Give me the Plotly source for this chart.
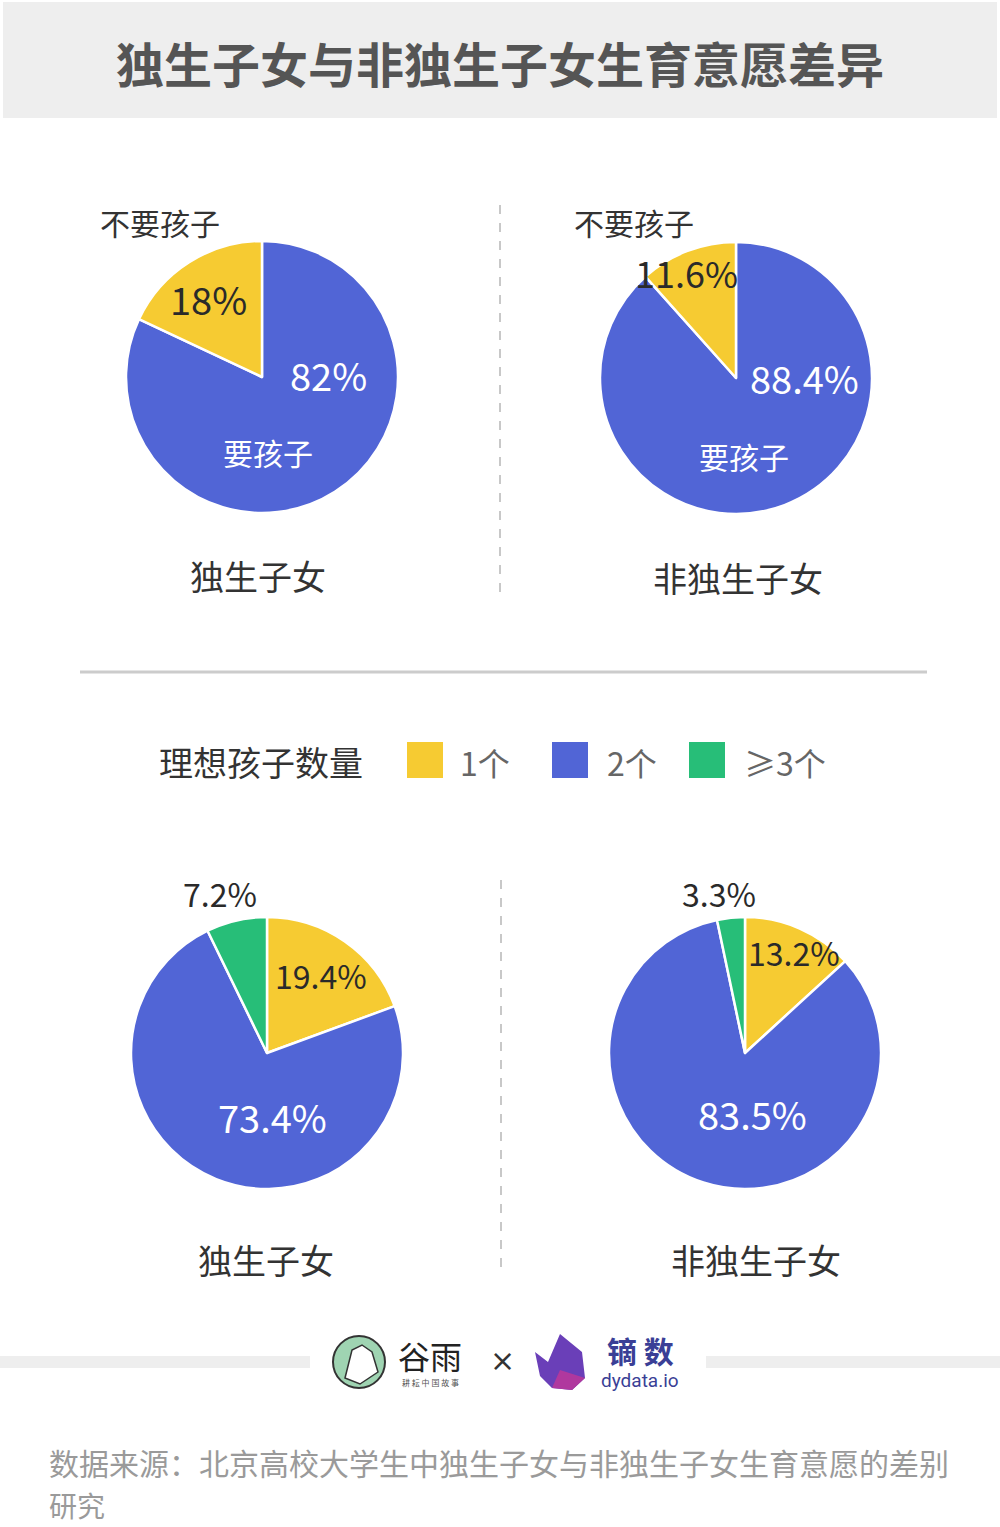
import plotly.graph_objects as go

W, H = 1000, 1527

# ---------------- data ----------------
top_groups = ["独生子女", "非独生子女"]
top_labels = ["要孩子", "不要孩子"]
top_values = [[82, 18], [88.4, 11.6]]

bottom_groups = ["独生子女", "非独生子女"]
count_labels = ["1个", "2个", "≥3个"]
count_values = [[19.4, 73.4, 7.2], [13.2, 83.5, 3.3]]

title_text = "独生子女与非独生子女生育意愿差异"
legend_title = "理想孩子数量"
source_lines = ["数据来源：北京高校大学生中独生子女与非独生子女生育意愿的差别", "研究"]

YELLOW = "#F6CB32"
BLUE = "#5165D6"
GREEN = "#27BE78"
CJK = "Noto Sans CJK SC"
NUM = "Noto Sans CJK SC"


def px(x):
    return x / W


def py(y):
    return 1 - y / H


def fmt(v):
    return ("%g" % v) + "%"


fig = go.Figure()

R = 136


def add_pie(cx, cy, labels, values, colors):
    fig.add_trace(go.Pie(
        labels=labels, values=values, sort=False, direction="clockwise",
        rotation=0, textinfo="none", hoverinfo="label+percent",
        marker=dict(colors=colors, line=dict(color="white", width=2.5)),
        domain=dict(x=[px(cx - R), px(cx + R)], y=[py(cy + R), py(cy - R)]),
        showlegend=False,
    ))


# top pies (blue "要孩子" first so yellow ends at 12 o'clock)
add_pie(262, 377, top_labels, top_values[0], [BLUE, YELLOW])
add_pie(736, 378, top_labels, top_values[1], [BLUE, YELLOW])
# bottom pies
add_pie(267, 1053, count_labels, count_values[0], [YELLOW, BLUE, GREEN])
add_pie(745, 1053, count_labels, count_values[1], [YELLOW, BLUE, GREEN])

ann = []


def text(x, y, s, size, color="#333333", family=CJK, xanchor="center", align="center", pad=1):
    ann.append(dict(x=px(x), y=py(y), xref="paper", yref="paper", text=s,
                    showarrow=False, xanchor=xanchor, yanchor="middle", align=align,
                    borderpad=pad,
                    font=dict(size=size, color=color, family=family)))


# title
text(500, 62, "<b>" + title_text + "</b>", 48, "#555555")

# top pie labels
text(160, 222, top_labels[1], 30, "#333333")
text(208, 298, fmt(top_values[0][1]), 38, "#2a2a2a", NUM)
text(328, 374, fmt(top_values[0][0]), 38, "white", NUM)
text(268, 452, top_labels[0], 30, "white")
text(258, 575, top_groups[0], 34, "#333333")

text(634, 222, top_labels[1], 30, "#333333")
text(686, 272, fmt(top_values[1][1]), 36, "#2a2a2a", NUM)
text(804, 378, fmt(top_values[1][0]), 38, "white", NUM)
text(744, 456, top_labels[0], 30, "white")
text(738, 577, top_groups[1], 34, "#333333")

# legend row
text(157, 761, legend_title, 34, "#333333", xanchor="left")
leg_sq_x = [407, 552, 689]
leg_txt_x = [458, 605, 742]
for i, c in enumerate([YELLOW, BLUE, GREEN]):
    text(leg_txt_x[i], 762, count_labels[i], 32, "#666666", xanchor="left")

# bottom pie labels
text(220, 893, fmt(count_values[0][2]), 32, "#2a2a2a", NUM)
text(321, 975, fmt(count_values[0][0]), 32, "#2a2a2a", NUM)
text(272, 1116, fmt(count_values[0][1]), 38, "white", NUM)
text(266, 1259, bottom_groups[0], 34, "#333333")

text(719, 893, fmt(count_values[1][2]), 32, "#2a2a2a", NUM)
text(794, 952, fmt(count_values[1][0]), 32, "#2a2a2a", NUM)
text(752, 1113, fmt(count_values[1][1]), 38, "white", NUM)
text(756, 1259, bottom_groups[1], 34, "#333333")

# logos text
text(430, 1355, "谷雨", 32, "#222222", family="Noto Sans CJK SC")
text(430, 1382, "耕 耘 中 国 故 事", 8, "#555555")
text(502, 1360, "×", 30, "#333333", family="DejaVu Sans")
text(640, 1350, "<b>镝 数</b>", 30, "#3a3f96")
text(640, 1380, "dydata.io", 19, "#3a3f96", family="Roboto")

# source (two lines)
text(48, 1462, source_lines[0], 30, "#9a9a9a", xanchor="left", align="left", pad=0)
text(48, 1505, source_lines[1], 28, "#9a9a9a", xanchor="left", align="left", pad=0)

shapes = []
# title band
shapes.append(dict(type="rect", xref="paper", yref="paper", x0=px(3), x1=px(997),
                   y0=py(118), y1=py(2), fillcolor="#EEEEEE", line=dict(width=0), layer="below"))
# dashed separators
shapes.append(dict(type="line", xref="paper", yref="paper", x0=px(500), x1=px(500),
                   y0=py(205), y1=py(597), line=dict(color="#c8c8c8", width=2, dash="dash")))
shapes.append(dict(type="line", xref="paper", yref="paper", x0=px(501), x1=px(501),
                   y0=py(880), y1=py(1272), line=dict(color="#c8c8c8", width=2, dash="dash")))
# horizontal rule
shapes.append(dict(type="line", xref="paper", yref="paper", x0=px(80), x1=px(927),
                   y0=py(672), y1=py(672), line=dict(color="#cccccc", width=3)))
# legend squares
for i, c in enumerate([YELLOW, BLUE, GREEN]):
    shapes.append(dict(type="rect", xref="paper", yref="paper", x0=px(leg_sq_x[i]),
                       x1=px(leg_sq_x[i] + 36), y0=py(778), y1=py(742),
                       fillcolor=c, line=dict(width=0)))
# logo bars
shapes.append(dict(type="rect", xref="paper", yref="paper", x0=0, x1=px(310),
                   y0=py(1368), y1=py(1356), fillcolor="#EEEEEE", line=dict(width=0)))
shapes.append(dict(type="rect", xref="paper", yref="paper", x0=px(706), x1=1,
                   y0=py(1368), y1=py(1356), fillcolor="#EEEEEE", line=dict(width=0)))
# guyu circle logo
shapes.append(dict(type="circle", xref="paper", yref="paper", x0=px(333), x1=px(385),
                   y0=py(1388), y1=py(1336), fillcolor="#9FD4B2", line=dict(color="#333333", width=2)))


def path(points):
    s = "M " + " L ".join("%f,%f" % (px(a), py(b)) for a, b in points) + " Z"
    return s


shapes.append(dict(type="path", xref="paper", yref="paper",
                   path=path([(345, 1378), (352, 1350), (362, 1345), (372, 1352), (378, 1372), (360, 1384)]),
                   fillcolor="white", line=dict(color="#333333", width=1.5)))
# dydata butterfly
shapes.append(dict(type="path", xref="paper", yref="paper",
                   path=path([(560, 1334), (582, 1352), (585, 1378), (572, 1390), (552, 1388), (540, 1376), (535, 1352), (548, 1362)]),
                   fillcolor="#6A3FB8", line=dict(width=0)))
shapes.append(dict(type="path", xref="paper", yref="paper",
                   path=path([(560, 1370), (585, 1378), (572, 1390), (552, 1388)]),
                   fillcolor="#B0389E", line=dict(width=0)))

fig.update_layout(
    width=W, height=H, margin=dict(l=0, r=0, t=0, b=0),
    paper_bgcolor="white", plot_bgcolor="white",
    annotations=ann, shapes=shapes, showlegend=False,
)

fig.write_html("out.html")
